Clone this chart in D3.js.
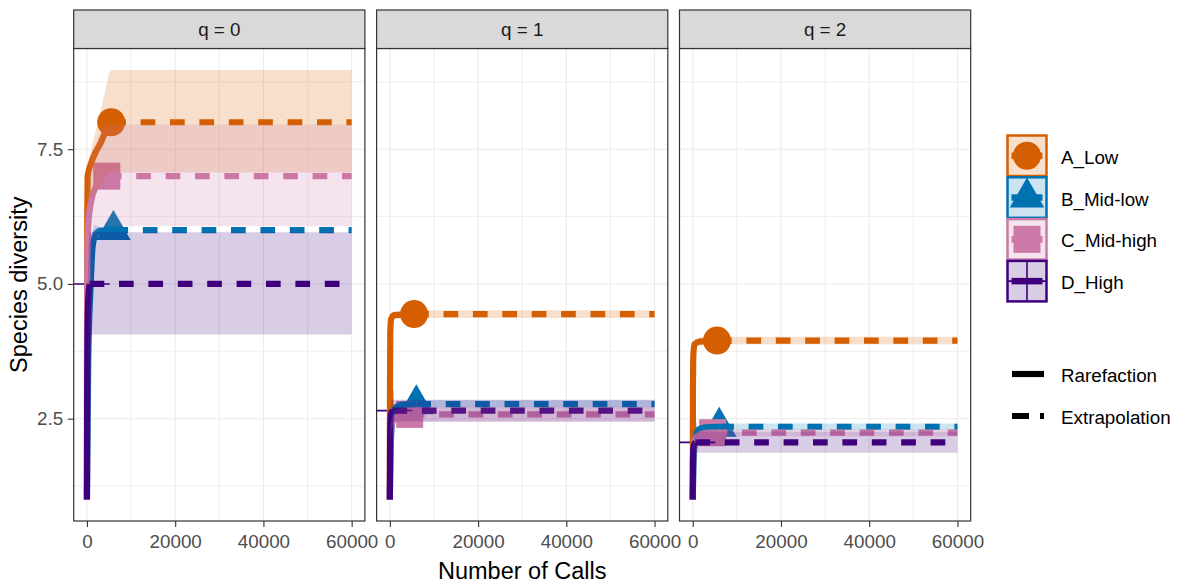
<!DOCTYPE html>
<html>
<head>
<meta charset="utf-8">
<script src="https://cdn.jsdelivr.net/npm/d3@7"></script>
<style>
  body { margin: 0; background: #fff; }
  text { font-family: "Liberation Sans", Arial, sans-serif; }
</style>
</head>
<body>
<svg id="chart" width="1181" height="583"></svg>
<script>
const sites = ["A_Low", "B_Mid-low", "C_Mid-high", "D_High"];
const colours = ["#D55E00", "#0072B2", "#CC79A7", "#3F007D"];
const shapes = ["circle", "triangle", "square", "plus"];
const orders = ["q = 0", "q = 1", "q = 2"];
const methods = ["Rarefaction", "Extrapolation"];
const endpoint = 60000;
const xTicks = [0, 20000, 40000, 60000];
const yTicks = [2.5, 5.0, 7.5];

// rarefaction rows: [calls, estimate, lower, upper], last row is the observed sample
const q0A = [[1, 1, 1, 1], [20, 4, 3.7, 4.3], [60, 6, 5.7, 6.3], [150, 7.0, 6.6, 7.15], [1000, 7.25, 6.6, 7.5], [2000, 7.45, 6.7, 7.85], [3000, 7.6, 6.8, 8.18], [4000, 7.78, 6.95, 8.53], [5500, 8.0, 7.07, 8.97]];
const q0B = [[1, 1, 1, 1], [300, 3.6, 3.2, 4.0], [800, 4.9, 4.5, 5.3], [1300, 5.7, 5.4, 6.0], [2000, 5.93, 5.75, 6.1], [3000, 5.99, 5.9, 6.05], [6000, 6.0, 6.0, 6.0]];
const q0C = [[1, 1, 1, 1], [30, 4, 3.5, 4.5], [100, 5.5, 4.6, 6.4], [300, 6.1, 5.3, 6.9], [1000, 6.55, 5.8, 7.3], [2000, 6.8, 5.95, 7.6], [3000, 6.92, 6.03, 7.8], [4500, 7.0, 6.07, 7.96]];
const q0D = [[1, 1, 1, 1], [50, 3.0, 2.6, 3.4], [150, 4.2, 3.6, 4.8], [300, 4.7, 3.9, 5.4], [600, 5.0, 4.06, 5.96]];

const q1A = [[1, 1, 1, 1], [30, 3.0, 2.9, 3.1], [100, 4.1, 4.0, 4.2], [300, 4.35, 4.28, 4.42], [1000, 4.42, 4.35, 4.49], [5500, 4.44, 4.37, 4.51]];
const q1B = [[1, 1, 1, 1], [300, 2.2, 2.1, 2.3], [800, 2.6, 2.5, 2.7], [1500, 2.72, 2.65, 2.79], [3000, 2.76, 2.7, 2.82], [6000, 2.77, 2.71, 2.84]];
const q1C = [[1, 1, 1, 1], [100, 2.0, 1.9, 2.1], [300, 2.35, 2.25, 2.45], [1000, 2.5, 2.4, 2.62], [2500, 2.56, 2.44, 2.7], [4500, 2.58, 2.44, 2.72]];
const q1D = [[1, 1, 1, 1], [50, 2.0, 1.9, 2.1], [150, 2.45, 2.3, 2.6], [300, 2.6, 2.42, 2.75], [600, 2.65, 2.45, 2.85]];

const q2A = [[1, 1, 1, 1], [50, 3.0, 2.93, 3.07], [150, 3.7, 3.63, 3.77], [400, 3.88, 3.81, 3.95], [1500, 3.93, 3.86, 4.0], [5500, 3.95, 3.88, 4.02]];
const q2B = [[1, 1, 1, 1], [300, 1.9, 1.82, 1.98], [800, 2.2, 2.12, 2.28], [1500, 2.31, 2.23, 2.37], [3000, 2.34, 2.27, 2.4], [6000, 2.35, 2.28, 2.41]];
const q2C = [[1, 1, 1, 1], [100, 1.8, 1.72, 1.88], [300, 2.05, 1.97, 2.13], [1000, 2.18, 2.1, 2.26], [2500, 2.23, 2.16, 2.3], [4500, 2.24, 2.17, 2.31]];
const q2D = [[1, 1, 1, 1], [50, 1.7, 1.6, 1.8], [150, 1.95, 1.8, 2.1], [300, 2.02, 1.85, 2.2], [600, 2.06, 1.87, 2.26]];

// extrapolated [estimate, lower, upper] at the endpoint, per site
const q0Ext = [[8.0, 7.07, 8.97], [6.0, 6.0, 6.0], [7.0, 6.07, 7.96], [5.0, 4.06, 5.96]];
const q1Ext = [[4.44, 4.37, 4.51], [2.77, 2.71, 2.84], [2.58, 2.44, 2.72], [2.65, 2.45, 2.85]];
const q2Ext = [[3.95, 3.88, 4.02], [2.35, 2.28, 2.41], [2.24, 2.17, 2.31], [2.06, 1.87, 2.26]];

const rare = [[q0A, q0B, q0C, q0D], [q1A, q1B, q1C, q1D], [q2A, q2B, q2C, q2D]];
const ext = [q0Ext, q1Ext, q2Ext];

const svg = d3.select('#chart');
const panelX = [73.7, 376.6, 679.5];
const panelW = 291.2;
const plotTop = 48.5, plotBottom = 521, stripTop = 10;

// shared y scale with ggplot style 5% expansion
const allY = rare.flat(2).flatMap(r => [r[2], r[3]]).concat(ext.flat(2));
const [yMin, yMax] = d3.extent(allY);
const yPad = (yMax - yMin) * 0.05;
const y = d3.scaleLinear().domain([yMin - yPad, yMax + yPad]).range([plotBottom, plotTop]);
const yMinor = [1.25, 3.75, 6.25, 8.75];
const xMinor = [10000, 30000, 50000];

function drawShape(g, shape, cx, cy, colour) {
    if (shape === 'circle') {
        g.append('circle').attr('cx', cx).attr('cy', cy).attr('r', 14).attr('fill', colour);
    } else if (shape === 'triangle') {
        g.append('path').attr('d', `M${cx},${cy - 20}L${cx + 17.3},${cy + 10}L${cx - 17.3},${cy + 10}Z`).attr('fill', colour);
    } else if (shape === 'square') {
        g.append('rect').attr('x', cx - 13.5).attr('y', cy - 13.5).attr('width', 27).attr('height', 27).attr('fill', colour);
    } else {
        g.append('path').attr('d', `M${cx - 20},${cy}H${cx + 20}M${cx},${cy - 20}V${cy + 20}`)
            .attr('stroke', colour).attr('stroke-width', 1.6).attr('fill', 'none');
    }
}

orders.forEach((label, p) => {
    const x0 = panelX[p];
    const x = d3.scaleLinear().domain([-endpoint * 0.05, endpoint * 1.05]).range([x0, x0 + panelW]);

    const clipId = `clip${p}`;
    svg.append('clipPath').attr('id', clipId)
        .append('rect').attr('x', x0).attr('y', plotTop).attr('width', panelW).attr('height', plotBottom - plotTop);

    const panel = svg.append('g');
    panel.append('rect').attr('x', x0).attr('y', plotTop).attr('width', panelW).attr('height', plotBottom - plotTop).attr('fill', '#fff');

    // grid
    const grid = panel.append('g').attr('stroke', '#EBEBEB');
    xMinor.forEach(v => grid.append('line').attr('x1', x(v)).attr('x2', x(v)).attr('y1', plotTop).attr('y2', plotBottom).attr('stroke-width', 0.8));
    yMinor.forEach(v => grid.append('line').attr('x1', x0).attr('x2', x0 + panelW).attr('y1', y(v)).attr('y2', y(v)).attr('stroke-width', 0.8));
    xTicks.forEach(v => grid.append('line').attr('x1', x(v)).attr('x2', x(v)).attr('y1', plotTop).attr('y2', plotBottom).attr('stroke-width', 1.1));
    yTicks.forEach(v => grid.append('line').attr('x1', x0).attr('x2', x0 + panelW).attr('y1', y(v)).attr('y2', y(v)).attr('stroke-width', 1.1));

    const plot = panel.append('g').attr('clip-path', `url(#${clipId})`);

    const line = d3.line().x(d => x(d[0])).y(d => y(d[1])).curve(d3.curveMonotoneX);
    const area = d3.area().x(d => x(d[0])).y0(d => y(d[2])).y1(d => y(d[3])).curve(d3.curveMonotoneX);

    // points first, then lines, then ribbons on top (as ggiNEXT draws them)
    rare[p].forEach((rows, s) => {
        const obs = rows[rows.length - 1];
        drawShape(plot, shapes[s], x(obs[0]), y(obs[1]), colours[s]);
    });

    rare[p].forEach((rows, s) => {
        const obs = rows[rows.length - 1];
        const e = ext[p][s];
        plot.append('path').attr('d', line(rows))
            .attr('fill', 'none').attr('stroke', colours[s]).attr('stroke-width', 6.2)
            .attr('stroke-linejoin', 'round');
        plot.append('path').attr('d', line([[obs[0], obs[1]], [endpoint, e[0]]]))
            .attr('fill', 'none').attr('stroke', colours[s]).attr('stroke-width', 6.2)
            .attr('stroke-dasharray', '14.7,14.7');
    });

    rare[p].forEach((rows, s) => {
        const e = ext[p][s];
        plot.append('path').attr('d', area(rows.concat([[endpoint, e[0], e[1], e[2]]])))
            .attr('fill', colours[s]).attr('fill-opacity', 0.2);
    });

    panel.append('rect').attr('x', x0).attr('y', plotTop).attr('width', panelW).attr('height', plotBottom - plotTop)
        .attr('fill', 'none').attr('stroke', '#333333').attr('stroke-width', 1.2);

    // strip
    svg.append('rect').attr('x', x0).attr('y', stripTop).attr('width', panelW).attr('height', plotTop - stripTop)
        .attr('fill', '#D9D9D9').attr('stroke', '#333333').attr('stroke-width', 1.2);
    svg.append('text').attr('x', x0 + panelW / 2).attr('y', (stripTop + plotTop) / 2)
        .attr('text-anchor', 'middle').attr('dominant-baseline', 'central')
        .attr('font-size', '18.8px').attr('fill', '#1A1A1A').text(label);

    // x axis
    const xAxis = svg.append('g').attr('transform', `translate(0,${plotBottom})`)
        .call(d3.axisBottom(x).tickValues(xTicks).tickFormat(d3.format('d')).tickSize(5.9).tickPadding(8));
    xAxis.select('.domain').remove();
    xAxis.selectAll('line').attr('stroke', '#333333').attr('stroke-width', 1.1);
    xAxis.selectAll('text').attr('font-size', '18.8px').attr('fill', '#4D4D4D').attr('font-family', null);

    if (p === 0) {
        const yAxis = svg.append('g').attr('transform', `translate(${x0},0)`)
            .call(d3.axisLeft(y).tickValues(yTicks).tickFormat(d3.format('.1f')).tickSize(5.9).tickPadding(4.7));
        yAxis.select('.domain').remove();
        yAxis.selectAll('line').attr('stroke', '#333333').attr('stroke-width', 1.1);
        yAxis.selectAll('text').attr('font-size', '18.8px').attr('fill', '#4D4D4D').attr('font-family', null);
    }
});

// axis titles
svg.append('text').attr('x', (panelX[0] + panelX[2] + panelW) / 2).attr('y', 579)
    .attr('text-anchor', 'middle').attr('font-size', '23.5px').attr('fill', '#000').text('Number of Calls');
svg.append('text').attr('transform', `translate(27,${(plotTop + plotBottom) / 2}) rotate(-90)`)
    .attr('text-anchor', 'middle').attr('font-size', '23.5px').attr('fill', '#000').text('Species diversity');

// legend: sites
const legend = svg.append('g');
const keyX = 1007.5, keyW = 39, keyH = 40.5, keyY0 = 135.5;
sites.forEach((name, i) => {
    const ky = keyY0 + i * 41.8;
    const cx = keyX + keyW / 2, cy = ky + keyH / 2;
    legend.append('rect').attr('x', keyX).attr('y', ky).attr('width', keyW).attr('height', keyH)
        .attr('fill', colours[i]).attr('fill-opacity', 0.2)
        .attr('stroke', colours[i]).attr('stroke-width', 2.5);
    legend.append('line').attr('x1', keyX + 4).attr('x2', keyX + keyW - 4).attr('y1', cy).attr('y2', cy)
        .attr('stroke', colours[i]).attr('stroke-width', 6.5);
    drawShape(legend, shapes[i], cx, cy, colours[i]);
    legend.append('text').attr('x', 1061).attr('y', cy + 1.5).attr('dominant-baseline', 'central')
        .attr('font-size', '18.8px').attr('fill', '#000').text(name);
});

// legend: methods
methods.forEach((name, i) => {
    const cy = 374 + i * 42;
    legend.append('line').attr('x1', 1012).attr('x2', 1044).attr('y1', cy).attr('y2', cy)
        .attr('stroke', '#000').attr('stroke-width', 6.2)
        .attr('stroke-dasharray', i === 0 ? null : '17,11');
    legend.append('text').attr('x', 1061).attr('y', cy + 1.5).attr('dominant-baseline', 'central')
        .attr('font-size', '18.8px').attr('fill', '#000').text(name);
});
</script>
</body>
</html>
